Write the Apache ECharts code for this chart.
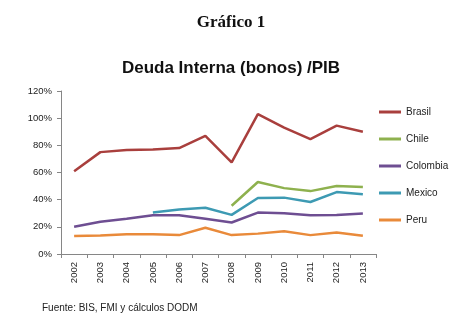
<!DOCTYPE html>
<html>
<head>
<meta charset="utf-8">
<script src="https://cdn.jsdelivr.net/npm/echarts@6/dist/echarts.min.js"></script>
<style>
html,body{margin:0;padding:0;background:#fff;}
#c{width:462px;height:322px;}
</style>
</head>
<body>
<div id="c"></div>
<script>
var years = ['2002','2003','2004','2005','2006','2007','2008','2009','2010','2011','2012','2013'];
var brasil   = [61, 75, 76.5, 77, 78, 87, 67.5, 103, 93, 84.5, 94.5, 90];
var chile    = [null, null, null, null, null, null, 35.5, 53, 48.5, 46.3, 50, 49.3];
var colombia = [20, 23.7, 26, 28.5, 28.5, 26, 23.2, 30.5, 30, 28.5, 28.7, 29.8];
var mexico   = [null, null, null, 30.5, 32.7, 34, 28.8, 41.2, 41.5, 38.3, 45.6, 43.9];
var peru     = [13.2, 13.7, 14.5, 14.6, 13.9, 19.3, 13.9, 15, 16.8, 13.9, 15.9, 13.4];
var yTicks = [0, 20, 40, 60, 80, 100, 120];

var names = ['Brasil','Chile','Colombia','Mexico','Peru'];
var colors = ['#A93F3D','#8EB14E','#6E4E92','#3D9AB3','#E98A3A'];
var datas = [brasil, chile, colombia, mexico, peru];

var chart = echarts.init(document.getElementById('c'));
chart.setOption({
  animation: false,
  title: [
    {text: 'Gráfico 1', left: 'center', top: 9,
     textStyle: {fontFamily: 'Liberation Serif', fontWeight: 'bold', fontSize: 17, color: '#111'}},
    {text: 'Deuda Interna (bonos) /PIB', left: 'center', top: 55,
     textStyle: {fontFamily: 'Liberation Sans', fontWeight: 'bold', fontSize: 17, color: '#111'}},
    {text: 'Fuente: BIS, FMI y cálculos DODM', left: 37, top: 298,
     textStyle: {fontFamily: 'Liberation Sans', fontWeight: 'normal', fontSize: 10, color: '#222'}}
  ],
  grid: {left: 61, right: 86, top: 91, bottom: 68, containLabel: false},
  legend: {
    orient: 'vertical', left: 374, top: 101,
    itemWidth: 22, itemHeight: 3, itemGap: 15, icon: 'rect',
    textStyle: {fontFamily: 'Liberation Sans', fontSize: 10, color: '#222', lineHeight: 12},
    data: names
  },
  xAxis: {
    type: 'category', data: years, boundaryGap: true,
    axisLine: {lineStyle: {color: '#868686', width: 1}},
    axisTick: {show: true, alignWithLabel: false, length: 4, lineStyle: {color: '#868686'}},
    axisLabel: {rotate: 90, fontFamily: 'Liberation Sans', fontSize: 9.5, color: '#222', margin: 8, interval: 0},
    splitLine: {show: false}
  },
  yAxis: {
    type: 'value', min: 0, max: 120, interval: 20,
    axisLine: {show: true, lineStyle: {color: '#868686', width: 1}},
    axisTick: {show: true, length: 4, lineStyle: {color: '#868686'}},
    axisLabel: {fontFamily: 'Liberation Sans', fontSize: 9.5, color: '#222', margin: 9,
      formatter: function (v) { return v + '%'; }},
    splitLine: {show: false}
  },
  series: names.map(function (n, i) {
    return {
      name: n, type: 'line', data: datas[i], color: colors[i],
      showSymbol: false, symbol: 'none', connectNulls: false,
      lineStyle: {width: 2.5, color: colors[i]}
    };
  })
});
</script>
</body>
</html>
